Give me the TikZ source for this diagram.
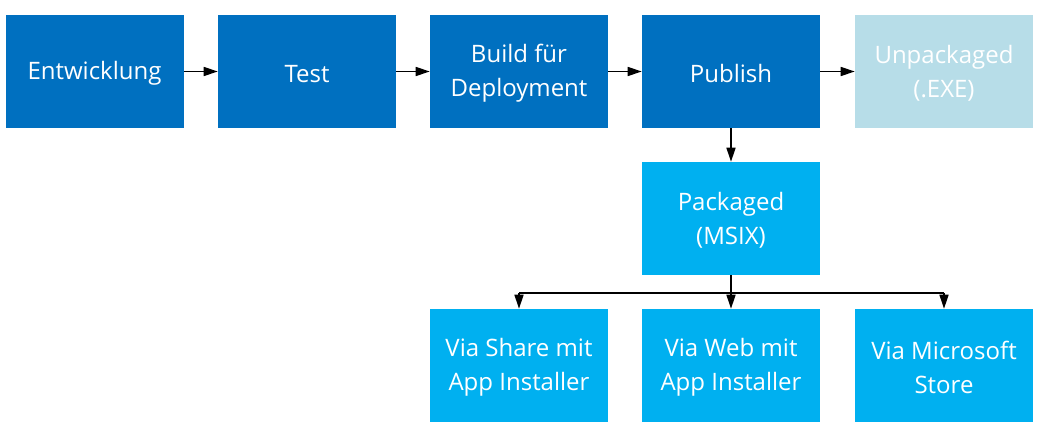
\documentclass[tikz,border=0pt]{standalone}
\usepackage{fontspec}
\setmainfont{Open Sans}
\usetikzlibrary{arrows.meta}
\definecolor{dblue}{HTML}{0070C0}
\definecolor{lblue}{HTML}{00B0F0}
\definecolor{pblue}{HTML}{B7DDE8}
\newcommand{\dnsh}{\rule{0pt}{17pt}}
\begin{document}
\begin{tikzpicture}[x=0.75pt,y=-0.75pt,
  box/.style={minimum width=133.5pt,minimum height=84.75pt,inner sep=0pt,align=center,text=white,
    font=\fontsize{18}{25.5}\selectfont},
  dbox/.style={box,fill=dblue},
  lbox/.style={box,fill=lblue},
  pbox/.style={box,fill=pblue},
  conn/.style={line width=1.1pt,-{Triangle[length=10.5pt,width=6.75pt]}},
  plain/.style={line width=1.1pt}]
\useasboundingbox (0,0) rectangle (1052,434);
\node[dbox] (e) at (94.5,71.5) {\dnsh Entwicklung};
\node[dbox] (t) at (307,71.5) {\dnsh Test};
\node[dbox] (b) at (519,71.5) {\dnsh Build für\\Deployment};
\node[dbox] (p) at (731,71.5) {\dnsh Publish};
\node[pbox] (u) at (944,71.5) {\dnsh Unpackaged\\(.EXE)};
\node[lbox] (m) at (731,218.5) {\dnsh Packaged\\(MSIX)};
\node[lbox] (s) at (519,365.5) {\dnsh Via Share mit\\App Installer};
\node[lbox] (w) at (731,365.5) {\dnsh Via Web mit\\App Installer};
\node[lbox] (ms) at (944,365.5) {\dnsh Via Microsoft\\Store};
\draw[conn] (e) -- (t);
\draw[conn] (t) -- (b);
\draw[conn] (b) -- (p);
\draw[conn] (p) -- (u);
\draw[conn] (p) -- (m);
\coordinate (j) at (731,293);
\coordinate (jl) at (519,293);
\coordinate (jr) at (944,293);
\draw[plain] (m.south) -- (j);
\draw[plain] (jl) -- (jr);
\draw[conn] (jl) -- (s.north);
\draw[conn] (j) -- (w.north);
\draw[conn] (jr) -- (ms.north);
\end{tikzpicture}
\end{document}
